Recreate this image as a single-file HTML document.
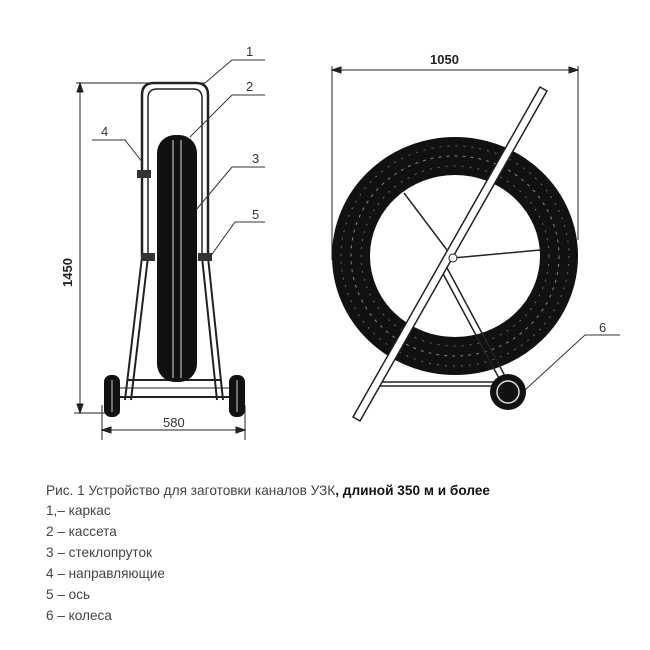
<!DOCTYPE html>
<html><head><meta charset="utf-8"><style>
html,body{margin:0;padding:0;background:#fff;width:650px;height:650px;overflow:hidden}
svg{position:absolute;left:0;top:0}
.t{font-family:"Liberation Sans",sans-serif;font-size:12px;fill:#333}
</style></head><body>
<svg width="650" height="650" viewBox="0 0 650 650">
<g stroke="#222" fill="none" stroke-width="1">
<line x1="76" y1="83" x2="205" y2="83"/>
<line x1="80" y1="83" x2="80" y2="413"/>
<line x1="74" y1="413" x2="120" y2="413"/>
<polygon points="80,83 77,92 83,92" fill="#222"/>
<polygon points="80,413 77,404 83,404" fill="#222"/>
<line x1="102" y1="405" x2="102" y2="440"/>
<line x1="245" y1="405" x2="245" y2="440"/>
<line x1="102" y1="430" x2="245" y2="430"/>
<polygon points="102,430 111,427 111,433" fill="#222"/>
<polygon points="245,430 236,427 236,433" fill="#222"/>
<path d="M142,257 L142,95 Q142,83 154,83 L196,83 Q208,83 208,95 L208,257" stroke-width="2.5"/>
<path d="M148,257 L148,98 Q148,89 157,89 L193,89 Q202,89 202,98 L202,257" stroke-width="1.5"/>
<path d="M142,257 L125,400 M148,257 L131,400 M208,257 L223,400 M202,257 L217,400" stroke-width="2"/>
<line x1="127" y1="380" x2="220" y2="380" stroke-width="2"/>
<line x1="120" y1="397" x2="230" y2="397" stroke-width="2"/>
<line x1="120" y1="388" x2="230" y2="388" stroke-width="1"/>
</g>
<rect x="157" y="135" width="40" height="247" rx="18" fill="#111"/>
<line x1="173" y1="140" x2="173" y2="378" stroke="#ddd" stroke-width="1"/>
<line x1="181" y1="140" x2="181" y2="378" stroke="#ddd" stroke-width="1"/>
<rect x="137" y="170" width="14" height="8" fill="#333"/>
<rect x="141" y="253" width="14" height="8" fill="#333"/>
<rect x="198" y="253" width="14" height="8" fill="#333"/>
<rect x="104" y="375" width="16" height="42" rx="7" fill="#111"/>
<rect x="229" y="375" width="16" height="42" rx="7" fill="#111"/>
<line x1="112" y1="380" x2="112" y2="412" stroke="#ccc"/>
<line x1="237" y1="380" x2="237" y2="412" stroke="#ccc"/>
<g stroke="#333" fill="none" stroke-width="1">
<path d="M205,83 L232,60 L265,60"/>
<path d="M190,137 L232,95 L265,95"/>
<path d="M196,210 L232,167 L265,167"/>
<path d="M92,140 L125,140 L143,163"/>
<path d="M210,257 L235,222 L265,222"/>
</g>
<g class="t" style="font-size:13px;fill:#333">
<text x="246" y="56">1</text><text x="246" y="91">2</text><text x="252" y="163">3</text>
<text x="101" y="136">4</text><text x="252" y="219">5</text><text x="599" y="332">6</text>
</g>
<text x="163" y="427" class="t" style="font-size:13px">580</text>
<text transform="translate(72,287) rotate(-90)" style="font-family:'Liberation Sans',sans-serif;font-weight:bold;font-size:13px;fill:#222">1450</text>
<g stroke="#222" fill="none">
<line x1="332" y1="70" x2="578" y2="70"/>
<line x1="332" y1="66" x2="332" y2="260"/>
<line x1="578" y1="66" x2="578" y2="240"/>
<polygon points="332,70 341,67 341,73" fill="#222"/>
<polygon points="578,70 569,67 569,73" fill="#222"/>
</g>
<text x="430" y="64" style="font-family:'Liberation Sans',sans-serif;font-weight:bold;font-size:13px;fill:#222">1050</text>
<ellipse cx="455" cy="256" rx="104" ry="100" fill="none" stroke="#111" stroke-width="38"/>
<ellipse cx="455" cy="256" rx="104" ry="100" fill="none" stroke="#888" stroke-width="1" stroke-dasharray="3 5"/>
<ellipse cx="455" cy="256" rx="114" ry="110" fill="none" stroke="#666" stroke-width="1" stroke-dasharray="2 6"/>
<ellipse cx="455" cy="256" rx="94" ry="90" fill="none" stroke="#666" stroke-width="1" stroke-dasharray="2 6"/>
<g stroke="#222" fill="none" stroke-width="1.5">
<line x1="453" y1="258" x2="404" y2="193"/>
<line x1="453" y1="258" x2="540" y2="250"/>
<line x1="380" y1="382" x2="500" y2="382"/>
<line x1="380" y1="386" x2="500" y2="386"/>
<path d="M440,268 L500,380 M446,266 L506,378"/>
</g>
<path d="M540,87 L547,91 L360,421 L353,417 Z" fill="#fff" stroke="#222" stroke-width="1.5"/>
<circle cx="453" cy="258" r="4" fill="#fff" stroke="#222"/>
<circle cx="508" cy="392" r="18" fill="#111"/>
<circle cx="508" cy="392" r="11" fill="none" stroke="#ddd" stroke-width="1.5"/>
<path d="M525,390 L585,335 L620,335" stroke="#333" fill="none"/>
<g style="font-family:'Liberation Sans',sans-serif;font-size:13.6px;fill:#444">
<text x="46" y="495" textLength="444" lengthAdjust="spacingAndGlyphs">Рис. 1 Устройство для заготовки каналов УЗК<tspan style="font-weight:bold;fill:#111">, длиной 350 м и более</tspan></text>
<text x="46" y="515">1,– каркас</text>
<text x="46" y="536">2 – кассета</text>
<text x="46" y="557">3 – стеклопруток</text>
<text x="46" y="578">4 – направляющие</text>
<text x="46" y="599">5 – ось</text>
<text x="46" y="620">6 – колеса</text>
</g>
</svg>
</body></html>
